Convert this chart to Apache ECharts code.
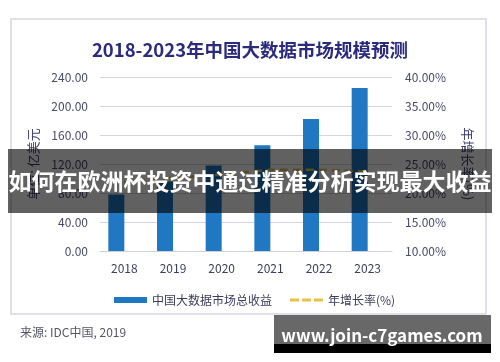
<!DOCTYPE html>
<html>
<head>
<meta charset="utf-8">
<script src="https://cdn.jsdelivr.net/npm/echarts@6/dist/echarts.min.js"></script>
<style>
html,body{margin:0;padding:0;background:#fff;}
#c{width:500px;height:362px;}
</style>
</head>
<body>
<div id="c"></div>
<script>
const years = ['2018','2019','2020','2021','2022','2023'];
const revenue = [78, 96, 118, 146, 182, 225];
const growth = [21.8, 22.6, 23.2, 24.0, 24.0, 23.7];
const leftTicks = {min: 0, max: 240, interval: 40};
const rightTicks = {min: 10, max: 40, interval: 5};

const FONT = '"Noto Sans CJK SC", "Noto Sans", sans-serif';
const chart = echarts.init(document.getElementById('c'), null, {renderer: 'canvas'});
chart.setOption({
  backgroundColor: '#fff',
  textStyle: {fontFamily: FONT},
  animation: false,
  title: {
    text: '2018-2023年中国大数据市场规模预测',
    left: 'center', top: 36,
    textStyle: {fontSize: 18.5, fontWeight: 'bold', color: '#2b2a7c', fontFamily: FONT}
  },
  grid: {left: 100, right: 108, top: 77, bottom: 111},
  legend: {
    left: 109, top: 289,
    itemWidth: 33, itemHeight: 6, itemGap: 18,
    textStyle: {fontSize: 12, color: '#3c3c5c', fontFamily: FONT},
    data: [
      {name: '中国大数据市场总收益', icon: 'rect'},
      {name: '年增长率(%)',
       icon: 'path://M0,0L0.01,0L0.01,0.01Z M0,6L0.01,6L0.01,6.01Z M0,1.5h9v3h-9z M12,1.5h9v3h-9z M24,1.5h9v3h-9z'}
    ]
  },
  xAxis: {
    type: 'category', data: years,
    axisTick: {show: false},
    axisLine: {lineStyle: {color: '#d0d0da', width: 1}},
    axisLabel: {color: '#3c3c5c', fontSize: 12, margin: 11, fontFamily: FONT}
  },
  yAxis: [
    {
      type: 'value', min: leftTicks.min, max: leftTicks.max, interval: leftTicks.interval,
      name: '单位: 亿美元', nameLocation: 'middle', nameRotate: 90, nameGap: 60,
      nameTextStyle: {color: '#3c3c6c', fontSize: 13, fontFamily: FONT},
      axisLabel: {formatter: v => v.toFixed(2), color: '#4a4a6a', fontSize: 12, margin: 12, fontFamily: FONT},
      axisLine: {show: false}, axisTick: {show: false},
      splitLine: {lineStyle: {color: '#d6d6de', width: 1}}
    },
    {
      type: 'value', min: rightTicks.min, max: rightTicks.max, interval: rightTicks.interval,
      name: '年增长率(%)', nameLocation: 'middle', nameRotate: -90, nameGap: 69,
      nameTextStyle: {color: '#3c3c6c', fontSize: 13, fontFamily: FONT},
      axisLabel: {formatter: v => v.toFixed(2) + '%', color: '#4a4a6a', fontSize: 12, margin: 13, fontFamily: FONT},
      axisLine: {show: false}, axisTick: {show: false},
      splitLine: {show: false}
    }
  ],
  series: [
    {
      name: '中国大数据市场总收益', type: 'bar', data: revenue,
      barWidth: 16, barGap: '0%',
      itemStyle: {color: '#1f78c1'}
    },
    {
      name: '_spacer', type: 'bar', data: years.map(() => null),
      barWidth: 16, barGap: '0%', silent: true
    },
    {
      name: '年增长率(%)', type: 'line', yAxisIndex: 1, data: growth,
      symbol: 'none',
      lineStyle: {color: '#e6c24a', width: 2.5, type: [8, 5]},
      itemStyle: {color: '#e6c24a'}
    }
  ],
  graphic: [
    {type: 'rect', z: -1, shape: {x: 11, y: 19, width: 475, height: 295},
     style: {fill: '#fff', stroke: '#d6d6e2', lineWidth: 1.5}},
    {type: 'text', z: 10, left: 20, top: 326,
     style: {text: '来源: IDC中国, 2019', fill: '#555566', font: '12px ' + FONT}},
    {type: 'rect', z: 100, shape: {x: 8, y: 149, width: 484, height: 64},
     style: {fill: 'rgba(0,0,0,0.62)'}},
    {type: 'text', z: 101, x: 250, y: 181,
     style: {text: '如何在欧洲杯投资中通过精准分析实现最大收益', fill: '#fff',
             font: 'bold 23px ' + FONT, textAlign: 'center', textVerticalAlign: 'middle'}},
    {type: 'rect', z: 100, shape: {x: 274, y: 315, width: 217, height: 30},
     style: {fill: '#686868'}},
    {type: 'rect', z: 100, shape: {x: 274, y: 344, width: 217, height: 9},
     style: {fill: '#000'}},
    {type: 'text', z: 101, x: 382, y: 336,
     style: {text: 'www.join-c7games.com', fill: '#fff',
             font: 'bold 17px ' + FONT, textAlign: 'center', textVerticalAlign: 'middle'}}
  ]
});
</script>
</body>
</html>
